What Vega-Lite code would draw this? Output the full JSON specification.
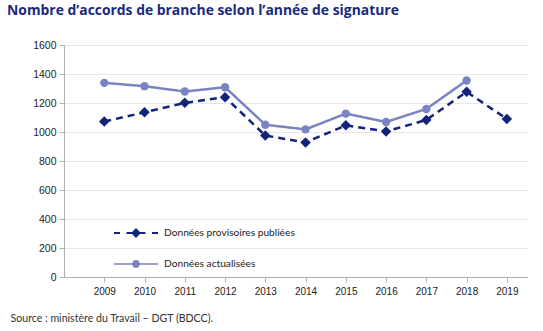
{
  "$schema": "https://vega.github.io/schema/vega-lite/v6.json",
  "autosize": "none",
  "width": 463,
  "height": 232,
  "padding": {"left": 64, "top": 45, "right": 16, "bottom": 54},
  "background": "white",
  "title": {
    "text": "Nombre d’accords de branche selon l’année de signature",
    "anchor": "start",
    "frame": "group",
    "dx": -57,
    "offset": 22,
    "font": "Open Sans",
    "fontSize": 13.9,
    "fontWeight": "bold",
    "color": "#1b2a7c"
  },
  "data": {
    "values": [
      {"year": 2009, "serie": "Données provisoires publiées", "v": 1072},
      {"year": 2010, "serie": "Données provisoires publiées", "v": 1136},
      {"year": 2011, "serie": "Données provisoires publiées", "v": 1201},
      {"year": 2012, "serie": "Données provisoires publiées", "v": 1240},
      {"year": 2013, "serie": "Données provisoires publiées", "v": 976},
      {"year": 2014, "serie": "Données provisoires publiées", "v": 928},
      {"year": 2015, "serie": "Données provisoires publiées", "v": 1046},
      {"year": 2016, "serie": "Données provisoires publiées", "v": 1004},
      {"year": 2017, "serie": "Données provisoires publiées", "v": 1083},
      {"year": 2018, "serie": "Données provisoires publiées", "v": 1277},
      {"year": 2019, "serie": "Données provisoires publiées", "v": 1090},
      {"year": 2009, "serie": "Données actualisées", "v": 1339},
      {"year": 2010, "serie": "Données actualisées", "v": 1316},
      {"year": 2011, "serie": "Données actualisées", "v": 1279},
      {"year": 2012, "serie": "Données actualisées", "v": 1309},
      {"year": 2013, "serie": "Données actualisées", "v": 1050},
      {"year": 2014, "serie": "Données actualisées", "v": 1018},
      {"year": 2015, "serie": "Données actualisées", "v": 1127},
      {"year": 2016, "serie": "Données actualisées", "v": 1069},
      {"year": 2017, "serie": "Données actualisées", "v": 1159},
      {"year": 2018, "serie": "Données actualisées", "v": 1355}
    ]
  },
  "encoding": {
    "x": {
      "field": "year",
      "type": "quantitative",
      "scale": {"domain": [2008, 2019.5], "nice": false, "zero": false},
      "axis": {
        "values": [2009, 2010, 2011, 2012, 2013, 2014, 2015, 2016, 2017, 2018, 2019],
        "format": "d",
        "grid": false,
        "domainColor": "#b0b0b0",
        "tickColor": "#b0b0b0",
        "tickSize": 5,
        "labelFont": "Liberation Sans",
        "labelFontSize": 10,
        "labelColor": "#222222",
        "labelPadding": 4,
        "title": "Source : ministère du Travail – DGT (BDCC).",
        "titleFont": "Lato",
        "titleFontSize": 10.6,
        "titleFontWeight": "normal",
        "titleColor": "#333333",
        "titleAlign": "left",
        "titleAnchor": "start",
        "titleBaseline": "middle",
        "titleX": -54,
        "titleY": 41
      }
    },
    "y": {
      "field": "v",
      "type": "quantitative",
      "scale": {"domain": [0, 1600], "nice": false},
      "axis": {
        "values": [0, 200, 400, 600, 800, 1000, 1200, 1400, 1600],
        "format": "d",
        "title": null,
        "gridColor": "#cccccc",
        "gridDash": [1, 1],
        "domainColor": "#b0b0b0",
        "tickColor": "#b0b0b0",
        "tickSize": 5,
        "labelFont": "Liberation Sans",
        "labelFontSize": 10.5,
        "labelColor": "#222222",
        "labelPadding": 3
      }
    },
    "color": {
      "field": "serie",
      "type": "nominal",
      "sort": ["Données provisoires publiées", "Données actualisées"],
      "scale": {"domain": ["Données provisoires publiées", "Données actualisées"], "range": ["#12237a", "#7a84c4"]},
      "legend": {
        "orient": "none",
        "legendX": 57,
        "legendY": 173,
        "title": null,
        "padding": 0,
        "rowPadding": 10,
        "symbolSize": 900,
        "labelOffset": 13,
        "labelFont": "Lato",
        "labelFontSize": 10.2,
        "labelColor": "#222222",
        "symbolStrokeWidth": 0,
        "encode": {
          "symbols": {
            "update": {
              "shape": {"signal": "datum.value === 'Données provisoires publiées' ? 'M-1.47,-0.06H-1.07V0.06H-1.47Z M-0.63,-0.06H-0.2V0.06H-0.63Z M-0.33,0L0,-0.33L0.33,0L0,0.33Z M0.2,-0.06H0.63V0.06H0.2Z M1.07,-0.06H1.47V0.06H1.07Z' : 'M-1.47,-0.055H-0.2V0.055H-1.47Z M0.2,-0.055H1.47V0.055H0.2Z M-0.26,0A0.26,0.26 0 1,1 0.26,0A0.26,0.26 0 1,1 -0.26,0Z'"},
              "fill": {"scale": "color", "field": "value"},
              "fillOpacity": {"value": 1},
              "strokeWidth": {"value": 0},
              "opacity": {"value": 1}
            }
          }
        }
      }
    }
  },
  "layer": [
    {
      "mark": {"type": "line", "strokeWidth": 2.5},
      "encoding": {
        "strokeDash": {
          "condition": {"test": "datum.serie === 'Données provisoires publiées'", "value": [7, 5]},
          "value": [1, 0]
        }
      }
    },
    {
      "mark": {"type": "point", "filled": true, "opacity": 1},
      "encoding": {
        "shape": {
          "condition": {"test": "datum.serie === 'Données provisoires publiées'", "value": "diamond"},
          "value": "circle"
        },
        "size": {
          "condition": {"test": "datum.serie === 'Données provisoires publiées'", "value": 110},
          "value": 70
        }
      }
    }
  ],
  "config": {"view": {"stroke": null}}
}
